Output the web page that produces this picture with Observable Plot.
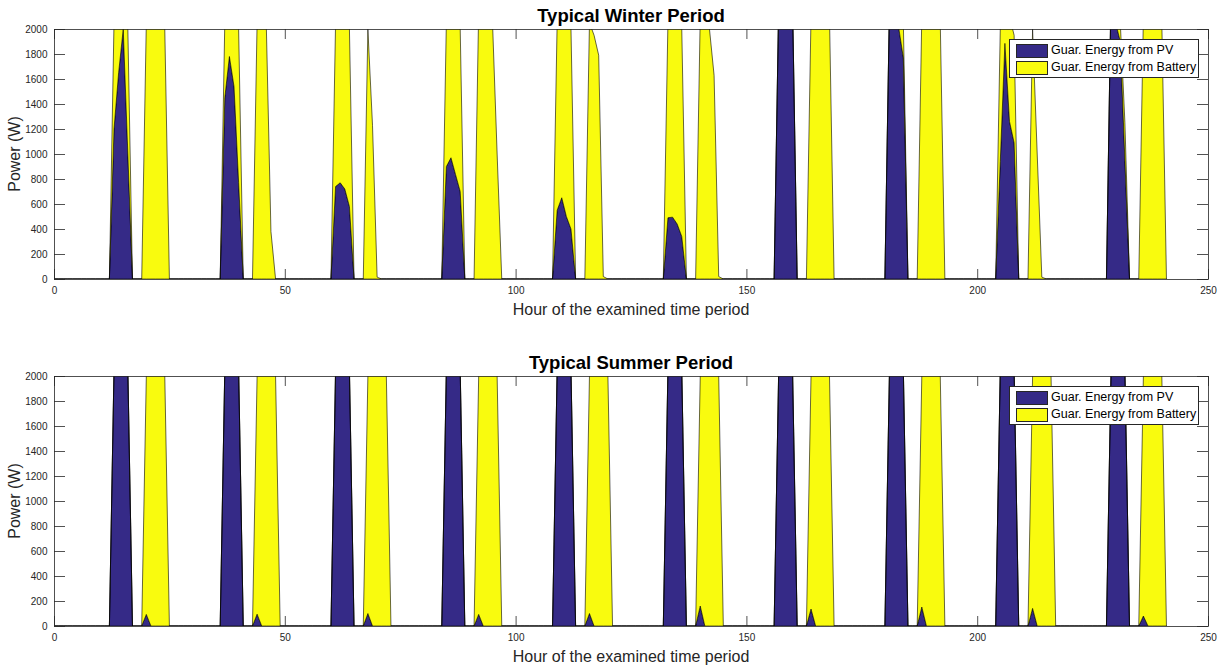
<!DOCTYPE html>
<html>
<head>
<meta charset="utf-8">
<script src="https://cdn.jsdelivr.net/npm/d3@7"></script>
<script src="https://cdn.jsdelivr.net/npm/@observablehq/plot@0.6"></script>
<style>
  body { margin: 0; background: #fff; font-family: "Liberation Sans", Arial, Helvetica, sans-serif; }
  #wrap { position: relative; width: 1227px; height: 668px; overflow: hidden; background: #fff; }
  .panel { position: absolute; left: 0; width: 1227px; height: 334px; }
  .title { position: absolute; left: 54px; width: 1154px; text-align: center; font-weight: bold; font-size: 18.5px; line-height: 20px; color: #000; }
  .xlabel { position: absolute; left: 54px; width: 1154px; text-align: center; font-size: 16px; line-height: 18px; color: #262626; }
  .ylabel { position: absolute; width: 100px; height: 18px; line-height: 18px; text-align: center; font-size: 16px; color: #262626; transform: rotate(-90deg); white-space: nowrap; }
  .legend { position: absolute; left: 1009px; width: 190px; height: 39px; border: 1px solid #262626; background: #fff; box-sizing: border-box; font-size: 12.5px; color: #000; }
  .legend .row { position: absolute; left: 6px; height: 14px; }
  .legend .sw { position: absolute; left: 0; top: 0; width: 30px; height: 12px; border: 1px solid #262626; }
  .legend .tx { position: absolute; left: 35px; top: -1px; line-height: 14px; white-space: nowrap; }
</style>
</head>
<body>
<div id="wrap"></div>
<script>
// ---------------- DATA ----------------
const seriesNames = ["Guar. Energy from PV", "Guar. Energy from Battery"];
const seriesColors = ["#352A87", "#F9FB0E"];
const titles = ["Typical Winter Period", "Typical Summer Period"];
const xLabel = "Hour of the examined time period";
const yLabel = "Power (W)";
const xTicks = [0, 50, 100, 150, 200, 250];
const yTicks = [0, 200, 400, 600, 800, 1000, 1200, 1400, 1600, 1800, 2000];

// start hour of each of the 10 days
const dayStart = [0, 24, 48, 72, 96, 120, 144, 168, 192, 216];
// hours (relative to the day start) for which values are listed below
const relHours = [12, 13, 14, 15, 16, 17, 18, 19, 20, 21, 22, 23, 24, 25];
const lastHour = 241;

// Winter: power (W) per day, at relHours
const winterPV = [
  [0, 1200, 1650, 2000, 1000, 0, 0, 0, 0, 0, 0, 0, 0, 0],
  [0, 1450, 1780, 1540, 770, 0, 0, 0, 0, 0, 0, 0, 0, 0],
  [0, 740, 770, 720, 580, 0, 0, 0, 0, 0, 0, 0, 0, 0],
  [0, 900, 970, 835, 700, 0, 0, 0, 0, 0, 0, 0, 0, 0],
  [0, 550, 650, 500, 400, 0, 0, 0, 0, 0, 0, 0, 0, 0],
  [0, 490, 495, 440, 340, 0, 0, 0, 0, 0, 0, 0, 0, 0],
  [0, 2200, 2400, 2400, 2200, 0, 0, 0, 0, 0, 0, 0, 0, 0],
  [0, 2200, 2400, 2010, 1770, 0, 0, 0, 0, 0, 0, 0, 0, 0],
  [0, 940, 1885, 1260, 1090, 0, 0, 0, 0, 0, 0, 0, 0, 0],
  [0, 2300, 2050, 1900, 950, 0, 0, 0, 0, 0, 0, 0, 0, 0]
];
const winterBattery = [
  [0, 850, 450, 100, 1000, 0, 0, 0, 2050, 2100, 2100, 2100, 2000, 0],
  [0, 600, 270, 510, 1230, 0, 0, 0, 2050, 2100, 2020, 380, 0, 0],
  [0, 1310, 1330, 1380, 1420, 0, 0, 0, 2000, 1230, 15, 0, 0, 0],
  [0, 1150, 1130, 1265, 1300, 0, 0, 0, 2150, 2100, 2100, 2050, 1000, 0],
  [0, 1500, 1450, 1600, 1600, 0, 0, 0, 2050, 1950, 1790, 20, 0, 0],
  [0, 1560, 1605, 1660, 1660, 0, 0, 0, 2100, 2050, 2000, 1630, 20, 0],
  [0, 0, 0, 0, 0, 0, 0, 0, 2100, 2100, 2100, 2100, 2100, 0],
  [0, 0, 0, 40, 280, 0, 0, 0, 2100, 2100, 2100, 2100, 2050, 0],
  [0, 1060, 215, 840, 860, 0, 0, 0, 2000, 1000, 15, 0, 0, 0],
  [0, 0, 0, 150, 300, 0, 0, 0, 2100, 2100, 2100, 2100, 2050, 0]
];

// Summer: power (W) per day, at relHours
const summerPV = [
  [0, 2050, 2500, 2500, 2050, 0, 0, 0, 93, 0, 0, 0, 0, 0],
  [0, 2050, 2500, 2500, 2050, 0, 0, 0, 95, 0, 0, 0, 0, 0],
  [0, 2050, 2500, 2500, 2050, 0, 0, 0, 100, 0, 0, 0, 0, 0],
  [0, 2050, 2500, 2500, 2050, 0, 0, 0, 93, 0, 0, 0, 0, 0],
  [0, 2050, 2500, 2500, 2050, 0, 0, 0, 100, 0, 0, 0, 0, 0],
  [0, 2050, 2500, 2500, 2050, 0, 0, 0, 160, 0, 0, 0, 0, 0],
  [0, 2050, 2500, 2500, 2050, 0, 0, 0, 136, 0, 0, 0, 0, 0],
  [0, 2050, 2500, 2500, 2050, 0, 0, 0, 152, 0, 0, 0, 0, 0],
  [0, 2050, 2500, 2500, 2050, 0, 0, 0, 141, 0, 0, 0, 0, 0],
  [0, 2050, 2500, 2500, 2050, 0, 0, 0, 80, 0, 0, 0, 0, 0]
];
const summerBattery = [
  [0, 0, 0, 0, 0, 0, 0, 0, 1907, 2100, 2100, 2100, 2000, 0],
  [0, 0, 0, 0, 0, 0, 0, 0, 1905, 2100, 2100, 2100, 2000, 0],
  [0, 0, 0, 0, 0, 0, 0, 0, 1900, 2100, 2100, 2100, 2000, 0],
  [0, 0, 0, 0, 0, 0, 0, 0, 1907, 2100, 2100, 2100, 2000, 0],
  [0, 0, 0, 0, 0, 0, 0, 0, 1900, 2100, 2100, 2100, 2000, 0],
  [0, 0, 0, 0, 0, 0, 0, 0, 1840, 2100, 2100, 2100, 2000, 0],
  [0, 0, 0, 0, 0, 0, 0, 0, 1864, 2100, 2100, 2100, 2000, 0],
  [0, 0, 0, 0, 0, 0, 0, 0, 1848, 2100, 2100, 2100, 2000, 0],
  [0, 0, 0, 0, 0, 0, 0, 0, 1859, 2100, 2100, 2100, 2000, 0],
  [0, 0, 0, 0, 0, 0, 0, 0, 1920, 2100, 2100, 2100, 2000, 0]
];

// ---------------- BUILD ----------------
function hourly(perDay) {
  const arr = new Array(lastHour + 1).fill(0);
  perDay.forEach((vals, d) => {
    vals.forEach((v, j) => { arr[dayStart[d] + relHours[j]] = v; });
  });
  return arr;
}
function table(pv, bat) {
  const p = hourly(pv), b = hourly(bat);
  const rows = [];
  p.forEach((v, h) => rows.push({hour: h, series: seriesNames[0], value: v}));
  b.forEach((v, h) => rows.push({hour: h, series: seriesNames[1], value: v}));
  return rows;
}

const W = 1227, H = 334, ML = 54, MR = 19;
const innerW = W - ML - MR;
const innerH = 250;

function chart(rows, mt) {
  const mb = H - mt - innerH;
  return Plot.plot({
    width: W, height: H,
    marginLeft: ML, marginRight: MR, marginTop: mt, marginBottom: mb,
    x: {domain: [0, 250]},
    y: {domain: [0, 2000]},
    color: {domain: seriesNames, range: seriesColors},
    style: {fontFamily: '"Liberation Sans", Arial, Helvetica, sans-serif', fontSize: "10px", color: "#262626", background: "transparent"},
    marks: [
      Plot.areaY(rows, {x: "hour", y: "value", z: "series", fill: "series", stroke: "#000", strokeWidth: 0.6, clip: true}),
      Plot.tickY(yTicks, {y: d => d, insetRight: innerW - 11, stroke: "#262626", strokeWidth: 0.8}),
      Plot.tickY(yTicks, {y: d => d, insetLeft: innerW - 11, stroke: "#262626", strokeWidth: 0.8}),
      Plot.tickX(xTicks, {x: d => d, insetTop: innerH - 10, stroke: "#262626", strokeWidth: 0.8}),
      Plot.tickX(xTicks, {x: d => d, insetBottom: innerH - 10, stroke: "#262626", strokeWidth: 0.8}),
      Plot.axisX({ticks: xTicks, tickSize: 0, tickPadding: 7, label: null, tickFormat: d => String(d)}),
      Plot.axisY({ticks: yTicks, tickSize: 0, tickPadding: 7, label: null, tickFormat: d => String(d)}),
      Plot.frame({stroke: "#262626", strokeWidth: 0.8})
    ]
  });
}

const wrap = document.getElementById("wrap");
const panels = [
  {rows: table(winterPV, winterBattery), top: 0, mt: 29, title: titles[0]},
  {rows: table(summerPV, summerBattery), top: 334, mt: 42, title: titles[1]}
];
panels.forEach(p => {
  const div = document.createElement("div");
  div.className = "panel";
  div.style.top = p.top + "px";
  div.appendChild(chart(p.rows, p.mt));
  wrap.appendChild(div);

  const plotTop = p.top + p.mt;
  const t = document.createElement("div");
  t.className = "title"; t.textContent = p.title;
  t.style.top = (plotTop - 23) + "px";
  wrap.appendChild(t);

  const xl = document.createElement("div");
  xl.className = "xlabel"; xl.textContent = xLabel;
  xl.style.top = (plotTop + innerH + 22) + "px";
  wrap.appendChild(xl);

  const yl = document.createElement("div");
  yl.className = "ylabel"; yl.textContent = yLabel;
  yl.style.left = (15 - 50) + "px";
  yl.style.top = (plotTop + innerH / 2 - 9) + "px";
  wrap.appendChild(yl);

  const lg = document.createElement("div");
  lg.className = "legend";
  lg.style.top = (plotTop + 10) + "px";
  seriesNames.forEach((name, i) => {
    const r = document.createElement("div");
    r.className = "row";
    r.style.top = (4 + i * 17) + "px";
    const sw = document.createElement("div");
    sw.className = "sw"; sw.style.background = seriesColors[i];
    const tx = document.createElement("div");
    tx.className = "tx"; tx.textContent = name;
    r.appendChild(sw); r.appendChild(tx);
    lg.appendChild(r);
  });
  wrap.appendChild(lg);
});
</script>
</body>
</html>
